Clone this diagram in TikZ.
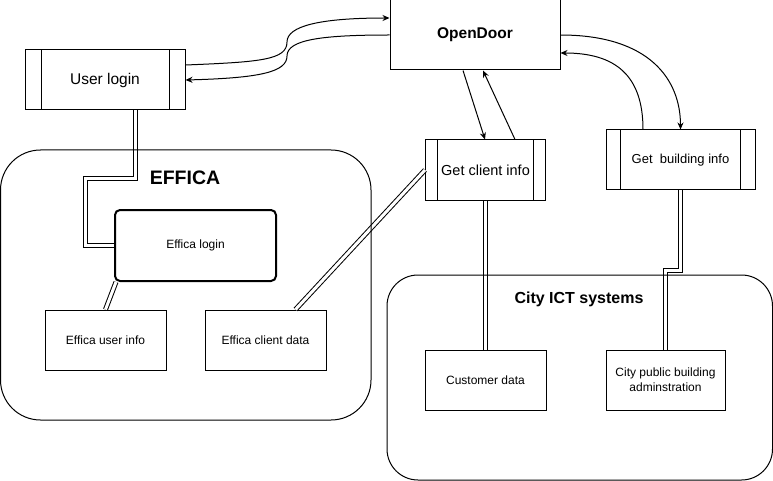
\documentclass[tikz,border=0pt]{standalone}
\usepackage{fontspec}
\setmainfont{Liberation Sans}
\usetikzlibrary{positioning,calc,arrows.meta}

\begin{document}
\begin{tikzpicture}[x=1pt,y=-1pt,line width=1pt,
    procbox/.style={draw, minimum width=#1, minimum height=60pt, inner sep=0pt,
      path picture={
        \draw ($(path picture bounding box.north west)!0.1!(path picture bounding box.north east)$) -- ($(path picture bounding box.south west)!0.1!(path picture bounding box.south east)$);
        \draw ($(path picture bounding box.north east)!0.1!(path picture bounding box.north west)$) -- ($(path picture bounding box.south east)!0.1!(path picture bounding box.south west)$);
      }},
    databox/.style={draw, minimum width=121pt, minimum height=60pt, align=center, font=\fontsize{12}{15}\selectfont},
    link/.style={double, double distance=3pt, line width=1pt},
    flow/.style={-{Stealth[length=7pt,width=6pt]}}]
    \useasboundingbox (0,0) rectangle (773,481);

    % Top row
    \node[procbox=160pt, font=\fontsize{15.5}{18}\selectfont] (ulogin) at (105,80) {User login};
    \node[draw, minimum width=170pt, minimum height=70pt, font=\bfseries\fontsize{15.5}{18}\selectfont] (od) at (475,35) {OpenDoor};
    \node[procbox=120pt, font=\fontsize{14.5}{17}\selectfont] (gclient) at (485.5,170) {Get client info};
    \node[procbox=149pt, font=\fontsize{13}{16}\selectfont] (gbuild) at (680.5,160) {Get~ building info};

    % EFFICA
    \node[font=\bfseries\fontsize{19.5}{22}\selectfont] (effica) at (185,178) {EFFICA};
    \node[draw, line width=2pt, rounded corners=5pt, minimum width=161pt, minimum height=71pt, font=\fontsize{12}{15}\selectfont] (elogin) at (195.5,245.5) {Effica login};
    \node[databox] (euser) at (105.5,340) {Effica user info};
    \node[databox] (eclient) at (265.5,340) {Effica client data};

    % City ICT
    \node[font=\bfseries\fontsize{16}{19}\selectfont] (city) at (579,299) {City ICT systems};
    \node[databox] (cust) at (485.5,380) {Customer data};
    \node[databox, minimum width=119pt] (cityb) at (665.5,380) {City public building\\adminstration};

    % Requests
    \draw[flow] ([yshift=15pt]ulogin.east) .. controls (260,62) and (287,60) .. (287,42) .. controls (287,26) and (320,18) .. ([yshift=17pt]od.west);
    \draw[flow] (od.west) .. controls (320,35) and (287,40) .. (287,56) .. controls (287,72) and (260,78) .. (ulogin.east);
    \draw[flow] ([xshift=-12pt]od.south) -- ([xshift=-0.5pt]gclient.north);
    \draw[flow] ([xshift=29.5pt]gclient.north) -- ([xshift=8pt]od.south);
    \draw[flow] (od.east) .. controls (650,35) and (680.5,80) .. (gbuild.north);
    \draw[flow] ([xshift=-37.5pt]gbuild.north) .. controls (643,75) and (615,53) .. ([yshift=-18pt]od.east);

    % Links
    \draw[link] ([xshift=30.5pt]ulogin.south) |- (85.5,178.5) |- (elogin.west);
    \draw[link] ([xshift=2pt]elogin.south west) -- (euser.north);
    \draw[link] (gclient.west) -- ([xshift=30pt]eclient.north);
    \draw[link] (gclient.south) -- (cust.north);
    \draw[link] (gbuild.south) -- ++(0,79.5) -| (cityb.north);

    % Containers
    \draw[rounded corners=40pt] (0.5,150) rectangle (371,420);
    \draw[rounded corners=31pt] (387,275) rectangle (772.5,480);
\end{tikzpicture}
\end{document}
